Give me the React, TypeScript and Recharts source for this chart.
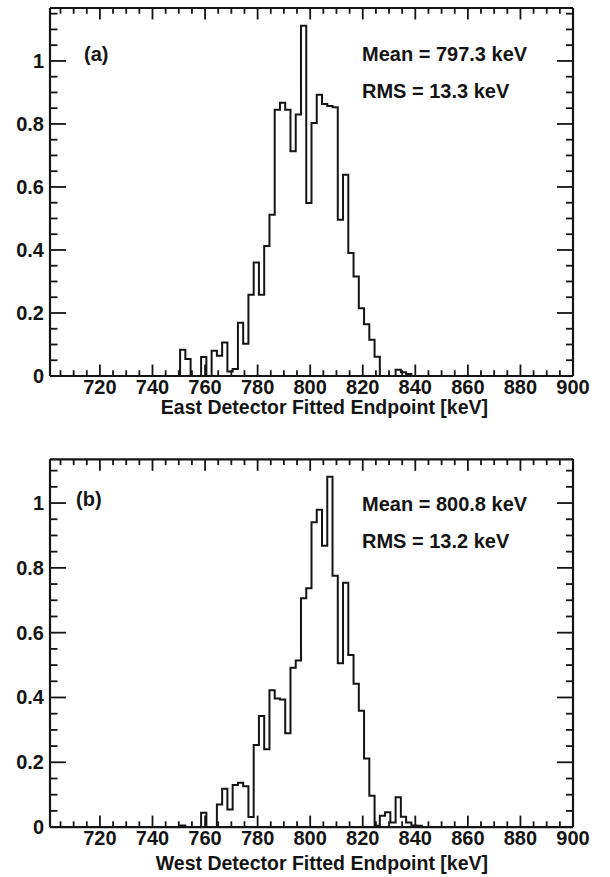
import React from 'react'
import { LineChart, Line, XAxis, YAxis } from 'recharts'

// ─── Data ────────────────────────────────────────────────────────────────────

// low edge of every 2 keV bin that is drawn (the rest of the range is empty)
const BIN_EDGES = [
  748.5, 750.5, 752.5, 754.5, 756.5, 758.5, 760.5, 762.5, 764.5, 766.5,
  768.5, 770.5, 772.5, 774.5, 776.5, 778.5, 780.5, 782.5, 784.5, 786.5,
  788.5, 790.5, 792.5, 794.5, 796.5, 798.5, 800.5, 802.5, 804.5, 806.5,
  808.5, 810.5, 812.5, 814.5, 816.5, 818.5, 820.5, 822.5, 824.5, 826.5,
  828.5, 830.5, 832.5, 834.5, 836.5, 838.5, 840.5, 842.5,
]

const EAST_COUNTS = [
  0, 0.083, 0.054, 0, 0, 0.06, 0, 0.08, 0.064, 0.106,
  0.014, 0.022, 0.169, 0.102, 0.258, 0.36, 0.258, 0.413, 0.512, 0.845,
  0.867, 0.845, 0.713, 0.83, 1.112, 0.549, 0.803, 0.893, 0.863, 0.857,
  0.853, 0.496, 0.639, 0.39, 0.316, 0.215, 0.164, 0.115, 0.061, 0,
  0, 0, 0.02, 0.012, 0.006, 0, 0, 0,
]

const WEST_COUNTS = [
  0, 0.005, 0, 0, 0, 0.044, 0, 0, 0.07, 0.118,
  0.054, 0.13, 0.137, 0.126, 0.031, 0.253, 0.343, 0.24, 0.422, 0.397,
  0.394, 0.29, 0.492, 0.514, 0.706, 0.737, 0.941, 0.979, 0.868, 1.081,
  0.776, 0.506, 0.754, 0.531, 0.442, 0.359, 0.212, 0.097, 0.004, 0.035,
  0.046, 0.014, 0.092, 0.032, 0.014, 0.005, 0.004, 0,
]

const X_LABELS = [720, 740, 760, 780, 800, 820, 840, 860, 880, 900]
const Y_LABELS = [0, 0.2, 0.4, 0.6, 0.8, 1]

// ─── Style ───────────────────────────────────────────────────────────────────

const FONT = '"Liberation Sans", Arial, Helvetica, sans-serif'
const INK = '#141414'
const X_DOMAIN: [number, number] = [701, 900]

const X_TICKS: number[] = []
for (let v = 705; v <= 900; v += 5) X_TICKS.push(v)

function yTicks(max: number) {
  const out: number[] = []
  for (let i = 0; i * 0.05 <= max + 1e-9; i++) out.push(Math.round(i * 5) / 100)
  return out
}

const isMajorX = (v: number) => X_LABELS.includes(v)
const isMajorY = (v: number) => Y_LABELS.some(l => Math.abs(l - v) < 1e-6)

function buildRows(values: number[]) {
  const rows = BIN_EDGES.map((edge, i) => ({ edge, value: values[i] }))
  rows.push({ edge: BIN_EDGES[BIN_EDGES.length - 1] + 2, value: 0 })
  return rows
}

// ─── Ticks (ROOT style: pointing into the frame) ─────────────────────────────

const textStyle = { fontFamily: FONT, fontWeight: 700, fontSize: 20, fill: INK }
const titleStyle = { ...textStyle, fontSize: 19.5 }

function BottomTick({ x, y, payload }: any) {
  const major = isMajorX(payload.value)
  return (
    <g>
      <line x1={x} x2={x} y1={y} y2={y - (major ? 11.5 : 5.8)} stroke={INK} strokeWidth={1.8} />
      {major && (
        <text x={x} y={y + 18} textAnchor="middle" style={textStyle}>
          {payload.value}
        </text>
      )}
    </g>
  )
}

function TopTick({ x, y, payload }: any) {
  const major = isMajorX(payload.value)
  return <line x1={x} x2={x} y1={y} y2={y + (major ? 11.5 : 5.8)} stroke={INK} strokeWidth={1.8} />
}

function LeftTick({ x, y, payload }: any) {
  const major = isMajorY(payload.value)
  return (
    <g>
      <line x1={x} x2={x + (major ? 16 : 7.5)} y1={y} y2={y} stroke={INK} strokeWidth={1.8} />
      {major && (
        <text x={x - 6} y={y + 7} textAnchor="end" style={textStyle}>
          {String(Math.round(payload.value * 10) / 10)}
        </text>
      )}
    </g>
  )
}

function RightTick({ x, y, payload }: any) {
  const major = isMajorY(payload.value)
  return <line x1={x} x2={x - (major ? 16 : 7)} y1={y} y2={y} stroke={INK} strokeWidth={1.8} />
}

// ─── Panel ───────────────────────────────────────────────────────────────────

interface PanelProps {
  values: number[]
  yMax: number
  height: number
  top: number
  marginTop: number
  bottomAxis: number
  tag: string
  tagPos: [number, number]
  mean: string
  rms: string
  statY: [number, number]
  title: string
  titleY: number
}

function HistPanel(p: PanelProps) {
  const data = buildRows(p.values)
  const ticksY = yTicks(p.yMax)
  const axisLine = { stroke: INK, strokeWidth: 2.2 }

  return (
    <div style={{ position: 'absolute', left: 0, top: p.top, width: 610, height: p.height }}>
      <LineChart
        width={610}
        height={p.height}
        data={data}
        margin={{ top: p.marginTop, right: 27, bottom: 0, left: 0 }}
      >
        <XAxis
          xAxisId="bottom"
          dataKey="edge"
          type="number"
          domain={X_DOMAIN}
          allowDataOverflow
          ticks={X_TICKS}
          interval={0}
          height={p.bottomAxis}
          tickSize={0}
          tickMargin={0}
          tickLine={false}
          axisLine={axisLine}
          tick={<BottomTick />}
        />
        <XAxis
          xAxisId="top"
          orientation="top"
          dataKey="edge"
          type="number"
          domain={X_DOMAIN}
          allowDataOverflow
          ticks={X_TICKS}
          interval={0}
          height={4}
          tickSize={0}
          tickMargin={0}
          tickLine={false}
          axisLine={axisLine}
          tick={<TopTick />}
        />
        <YAxis
          yAxisId="left"
          type="number"
          domain={[0, p.yMax]}
          allowDataOverflow
          ticks={ticksY}
          interval={0}
          width={50}
          tickSize={0}
          tickMargin={0}
          tickLine={false}
          axisLine={axisLine}
          tick={<LeftTick />}
        />
        <YAxis
          yAxisId="right"
          orientation="right"
          type="number"
          domain={[0, p.yMax]}
          allowDataOverflow
          ticks={ticksY}
          interval={0}
          width={10}
          tickSize={0}
          tickMargin={0}
          tickLine={false}
          axisLine={axisLine}
          tick={<RightTick />}
        />
        <Line
          xAxisId="bottom"
          yAxisId="left"
          dataKey="value"
          type="stepAfter"
          stroke={INK}
          strokeWidth={2}
          dot={false}
          activeDot={false}
          isAnimationActive={false}
        />
      </LineChart>

      <svg
        width={610}
        height={p.height}
        style={{ position: 'absolute', left: 0, top: 0, pointerEvents: 'none' }}
      >
        <text x={p.tagPos[0]} y={p.tagPos[1]} style={textStyle}>{p.tag}</text>
        <text x={362} y={p.statY[0]} style={textStyle}>{p.mean}</text>
        <text x={362} y={p.statY[1]} style={textStyle}>{p.rms}</text>
        <text x={488} y={p.titleY} textAnchor="end" style={titleStyle}>{p.title}</text>
      </svg>
    </div>
  )
}

// ─── App ─────────────────────────────────────────────────────────────────────

export default function App() {
  return (
    <div style={{ position: 'absolute', left: 0, top: 0, width: 610, height: 877, background: '#fff' }}>
      <HistPanel
        values={EAST_COUNTS}
        yMax={1.168}
        height={430}
        top={0}
        marginTop={4}
        bottomAxis={54}
        tag="(a)"
        tagPos={[84, 61]}
        mean="Mean = 797.3 keV"
        rms="RMS = 13.3 keV"
        statY={[61, 97.5]}
        title="East Detector Fitted Endpoint [keV]"
        titleY={414}
      />
      <HistPanel
        values={WEST_COUNTS}
        yMax={1.135}
        height={447}
        top={430}
        marginTop={25.3}
        bottomAxis={49.9}
        tag="(b)"
        tagPos={[76, 76]}
        mean="Mean = 800.8 keV"
        rms="RMS = 13.2 keV"
        statY={[81, 117.5]}
        title="West Detector Fitted Endpoint [keV]"
        titleY={440}
      />
    </div>
  )
}
